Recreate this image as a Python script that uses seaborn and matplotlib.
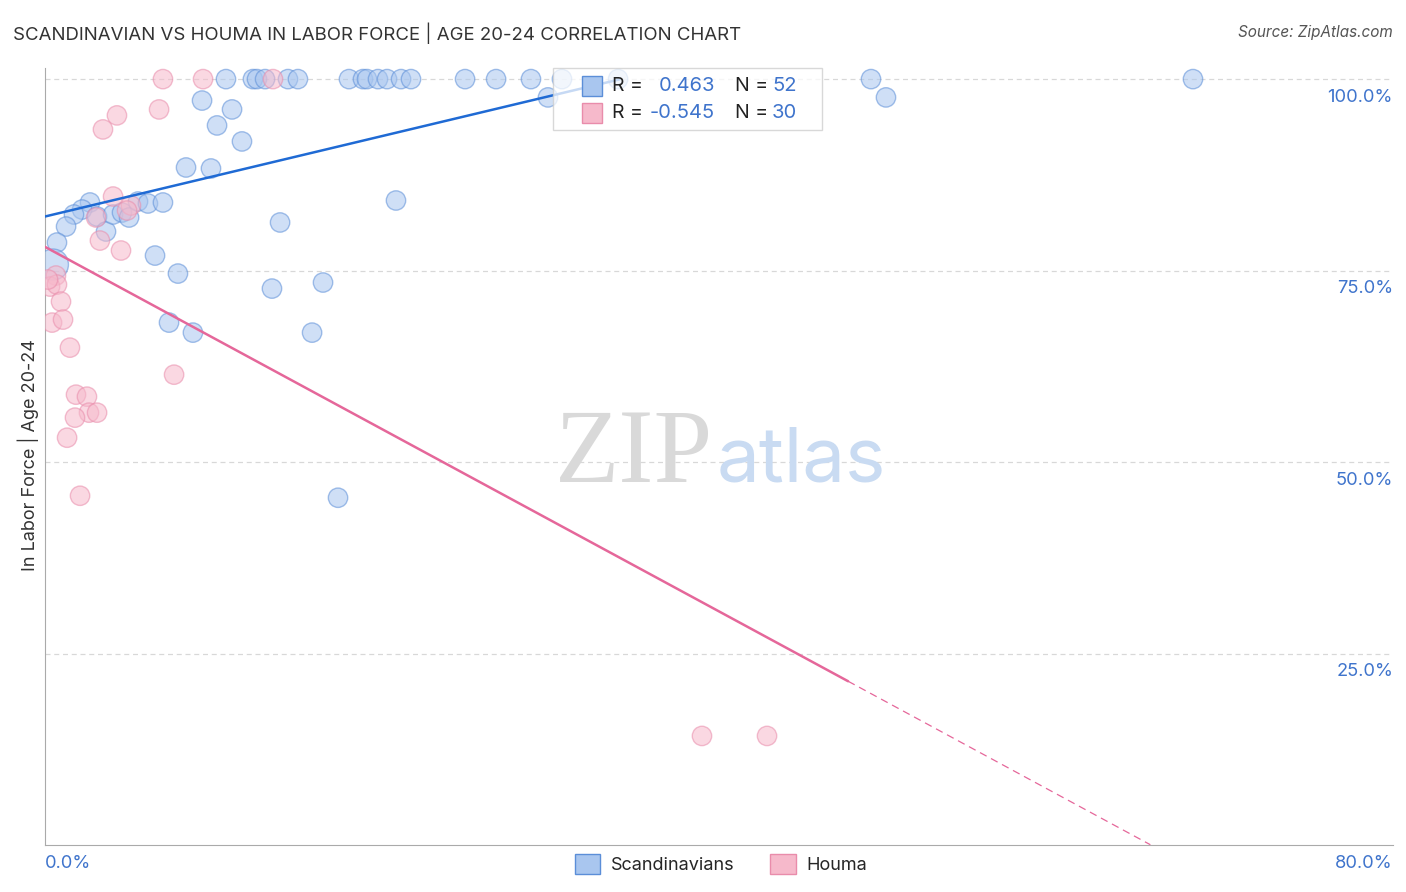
import numpy as np
import pandas as pd
import matplotlib.pyplot as plt
import seaborn as sns
from matplotlib.patches import Rectangle
import matplotlib.transforms as mtransforms

# Chart values (x and y in percent)
scand_x = [10.74, 12.34, 12.58, 13.06, 14.42, 15.01, 18.04, 18.87, 19.11, 19.76,
           20.30, 21.13, 21.72, 24.93, 26.77, 28.84, 30.68, 34.01, 49.02, 68.13,
           9.32, 11.10, 10.21, 11.69, 8.37, 9.85, 29.85, 49.91, 20.83, 13.95,
           2.67, 2.20, 1.72, 1.25, 0.71, 0.47, 3.09, 3.62, 4.04, 4.57, 4.99, 5.52,
           6.11, 7.00, 6.53, 7.89, 13.47, 16.50, 7.36, 8.78, 15.85, 17.39]
scand_y = [100] * 20 + [
           97.2, 96.04, 93.95, 91.86, 88.46, 88.33, 97.61, 97.61, 84.15, 81.28,
           83.89, 82.97, 82.32, 80.75, 78.66, 75.79, 82.06, 80.10, 82.32, 82.58,
           81.93, 84.02, 83.76, 83.89, 76.96, 74.61, 72.65, 73.44, 68.21, 66.90,
           66.90, 45.34]
# one bigger bubble in the Scandinavian series
scand_big = [35]

houma_x = [7.00, 9.38, 13.53, 6.77, 4.27, 3.44, 4.04, 3.03, 3.26, 4.51, 5.10, 4.87,
           0.65, 0.30, 0.71, 0.95, 0.42, 1.07, 1.48, 1.84, 2.49, 2.61, 3.09, 1.78,
           1.31, 2.08, 7.66, 38.99, 42.85, 0.18]
houma_y = [100, 100, 100, 96.04, 95.26, 93.43, 84.67, 81.93, 78.92, 77.62, 83.50,
           82.84, 74.35, 72.91, 73.17, 70.95, 68.21, 68.60, 64.94, 58.80, 58.54,
           56.45, 56.45, 55.80, 53.18, 45.60, 61.41, 14.24, 14.24, 73.83]

# Trend lines (intercept, slope, end of solid part, end of dashed part)
scand_fit = (82.06, 0.525, 34.1, 34.1)
houma_fit = (78.1, -1.19, 47.66, 65.6)

series_names = ["Scandinavians", "Houma"]
r_values = ["0.463", "-0.545"]
n_values = ["52", "30"]
y_ticks = [25, 50, 75, 100]

blue_fill = "#a9c6ef"
blue_edge = "#5b8ed8"
blue_line = "#1f6ad4"
pink_fill = "#f6b9cb"
pink_edge = "#e98cab"
pink_line = "#e5679a"
label_blue = "#3f74cc"

# Build the dataframe used by seaborn
big = [2 if i in scand_big else 1 for i in range(len(scand_x))]
data = pd.DataFrame({
  "x": scand_x + houma_x,
  "y": scand_y + houma_y,
  "group": [series_names[0]] * len(scand_x) + [series_names[1]] * len(houma_x),
  "size": big + [1] * len(houma_x),
})

sns.set_style("white")
plt.rcParams["font.family"] = ["Inter", "DejaVu Sans"]

fig = plt.figure(figsize=(14.06, 8.92), dpi=100)
ax = fig.add_axes([45 / 1406, 1 - 845 / 892, 1348 / 1406, 777 / 892])

sns.scatterplot(data=data, x="x", y="y", hue="group", size="size",
                sizes={1: 195, 2: 500},
                palette={series_names[0]: blue_fill, series_names[1]: pink_fill},
                hue_order=series_names, alpha=0.55, linewidth=1.0,
                legend=False, ax=ax, zorder=3)
# Edge colours per series
coll = ax.collections[0]
edges = [blue_edge if g == series_names[0] else pink_edge for g in data["group"]]
coll.set_edgecolor(edges)

# Trend lines
b0, b1, solid_end, _ = scand_fit
xs = np.array([0, solid_end])
ax.plot(xs, b0 + b1 * xs, color=blue_line, lw=1.8, zorder=4)
h0, h1, solid_end, dash_end = houma_fit
xs = np.array([0, solid_end])
ax.plot(xs, h0 + h1 * xs, color=pink_line, lw=1.8, zorder=4)
xs = np.array([solid_end, dash_end])
ax.plot(xs, h0 + h1 * xs, color=pink_line, lw=0.9, ls=(0, (6, 4)), zorder=4)

# Axes limits, spines and grid
ax.set_xlim(0, 80)
ax.set_ylim(0, 101.45)
for s in ["top", "right"]:
  ax.spines[s].set_visible(False)
ax.spines["left"].set_color("#aaaaaa")
ax.spines["bottom"].set_color("#aaaaaa")
for t in y_ticks:
  ax.axhline(t, color="#d8d8d8", lw=0.9, ls=(0, (4, 3)), zorder=1)
ax.set_yticks([])
ax.set_xticks(np.arange(0, 80, 80 * 128.5 / 1348))
ax.tick_params(axis="x", direction="in", length=17, color="#aaaaaa",
               labelbottom=False, width=1)
ax.set_xlabel("")
ax.set_ylabel("")

# Right side tick labels, placed a bit below each grid line
trans = mtransforms.blended_transform_factory(ax.transAxes, ax.transData)
trans = mtransforms.offset_copy(trans, fig=fig, x=0, y=-18, units="dots")
for t in y_ticks:
  ax.text(1.0, t, f"{t:.1f}%", transform=trans, ha="right", va="center",
          color=label_blue, fontsize=13.2)

fig.text(45 / 1406, 1 - 863 / 892, "0.0%", color=label_blue, fontsize=13.2,
         ha="left", va="center")
fig.text(1393 / 1406, 1 - 863 / 892, "80.0%", color=label_blue, fontsize=13.2,
         ha="right", va="center")

# Title, source, axis label
fig.text(13 / 1406, 1 - 33 / 892,
         "SCANDINAVIAN VS HOUMA IN LABOR FORCE | AGE 20-24 CORRELATION CHART",
         fontsize=13.4, color="#333333", ha="left", va="center")
fig.text(1393 / 1406, 1 - 33 / 892, "Source: ZipAtlas.com", fontsize=11,
         color="#555555", ha="right", va="center", style="italic")
fig.text(28 / 1406, 1 - 455 / 892, "In Labor Force | Age 20-24", fontsize=13,
         color="#333333", rotation=90, ha="center", va="center")

# Watermark
fig.text(634 / 1406, 1 - 457 / 892, "ZIP", fontsize=76, color="#d9d9d9",
         family="Liberation Serif", ha="center", va="center", zorder=0)
fig.text(801 / 1406, 1 - 462 / 892, "atlas", fontsize=55, color="#c9dbf2",
         ha="center", va="center", zorder=0)

# Top stats box
box = Rectangle((553 / 1406, 1 - 130 / 892), 269 / 1406, 62 / 892,
                transform=fig.transFigure, facecolor="white", alpha=0.75,
                edgecolor="#cccccc", lw=1, zorder=10)
fig.patches.append(box)
fills = [blue_fill, pink_fill]
lines = [blue_edge, pink_edge]
for i, yy in enumerate([86, 113]):
  fig.patches.append(Rectangle((582 / 1406, 1 - (yy + 10) / 892), 20 / 1406, 20 / 892,
                               transform=fig.transFigure, facecolor=fills[i],
                               edgecolor=lines[i], lw=1, zorder=11))
  fig.text(612 / 1406, 1 - yy / 892, "R =", fontsize=14, color="#222222",
           ha="left", va="center", zorder=12)
  fig.text(715 / 1406, 1 - yy / 892, r_values[i], fontsize=14.5, color=label_blue,
           ha="right", va="center", zorder=12)
  fig.text(735 / 1406, 1 - yy / 892, "N =", fontsize=14, color="#222222",
           ha="left", va="center", zorder=12)
  fig.text(772 / 1406, 1 - yy / 892, n_values[i], fontsize=14.5, color=label_blue,
           ha="left", va="center", zorder=12)

# Bottom legend
handles = [Rectangle((0, 0), 1, 1, facecolor=fills[i], edgecolor=lines[i])
           for i in range(2)]
fig.legend(handles, series_names, loc="center", bbox_to_anchor=(721 / 1406, 1 - 864 / 892),
           ncol=2, frameon=False, fontsize=13, handlelength=1.4, handleheight=1.4,
           columnspacing=2.0, handletextpad=0.6)

plt.savefig("out.png", dpi=100)
